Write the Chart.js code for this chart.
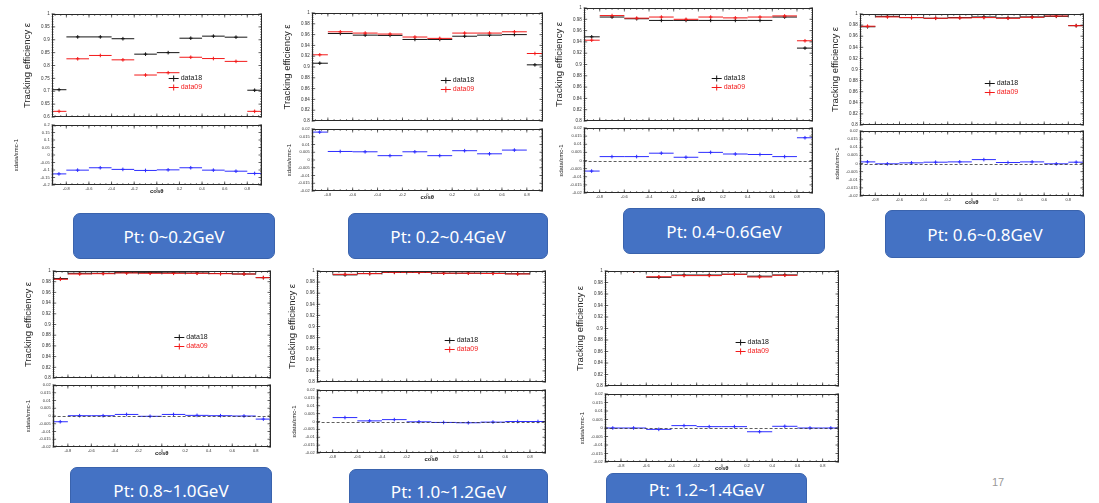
<!DOCTYPE html>
<html>
<head>
<meta charset="utf-8">
<script src="https://cdn.jsdelivr.net/npm/chart.js@4.4.0/dist/chart.umd.min.js"></script>
<style>
  html, body { margin: 0; padding: 0; background: #fff; }
  body { width: 1099px; height: 503px; position: relative; overflow: hidden; }
  canvas { position: absolute; }
  .tag {
    position: absolute; box-sizing: border-box; z-index: 2;
    background: #4472c4; border: 1px solid #3a63ad; border-radius: 7px;
    color: #fff; font-family: "Noto Sans", sans-serif; font-size: 17px;
    display: flex; align-items: center; justify-content: center;
  }
  #page { position: absolute; left: 992px; top: 476px; font: 11px "Liberation Sans", Arial, sans-serif; color: #999; }
</style>
</head>
<body>
<div id="page">17</div>
<script>
// bin edges in cos(theta), shared by all panels
const edges = [-0.93, -0.8, -0.6, -0.4, -0.2, 0, 0.2, 0.4, 0.6, 0.8, 0.93];

const ptLabels = ["Pt: 0~0.2GeV", "Pt: 0.2~0.4GeV", "Pt: 0.4~0.6GeV", "Pt: 0.6~0.8GeV",
                  "Pt: 0.8~1.0GeV", "Pt: 1.0~1.2GeV", "Pt: 1.2~1.4GeV"];
const seriesNames = ["data18", "data09"];

// tracking efficiency, one row per Pt panel
const data18 = [
  [0.706, 0.911, 0.911, 0.904, 0.844, 0.850, 0.906, 0.914, 0.910, 0.704],
  [0.907, 0.962, 0.959, 0.9585, 0.951, 0.951, 0.957, 0.959, 0.960, 0.904],
  [0.949, 0.984, 0.981, 0.978, 0.978, 0.978, 0.978, 0.978, 0.984, 0.929],
  [0.977, 0.9958, 0.9935, 0.9923, 0.9935, 0.9947, 0.993, 0.9947, 0.9958, 0.979],
  [0.9858, 0.9957, 0.9957, 0.9969, 0.9969, 0.9966, 0.9962, 0.9953, 0.9944, 0.9876],
  [null, 0.993, 0.9953, 0.9976, 0.9976, 0.996, 0.996, 0.996, 0.995, null],
  [null, 1.0, 0.989, 0.993, 0.993, 0.9943, 0.991, 0.9931, null, null],
];
const data09 = [
  [0.622, 0.826, 0.839, 0.822, 0.763, 0.772, 0.832, 0.827, 0.816, 0.622],
  [0.9226, 0.9652, 0.9628, 0.961, 0.9555, 0.953, 0.9628, 0.9628, 0.9652, 0.925],
  [0.943, 0.9866, 0.982, 0.984, 0.980, 0.984, 0.9825, 0.984, 0.986, 0.942],
  [0.978, 0.9947, 0.9935, 0.9923, 0.9929, 0.9935, 0.9923, 0.9941, 0.9964, 0.979],
  [0.9845, 0.9944, 0.995, 0.9963, 0.9957, 0.9957, 0.9957, 0.995, 0.9944, 0.9876],
  [null, 0.994, 0.9953, 0.9976, 0.9976, 0.996, 0.996, 0.9955, 0.9947, null],
  [null, 1.0, 0.990, 0.992, 0.992, 0.9943, 0.9896, 0.9925, null, null],
];
// eps_data / eps_mc - 1
const ratio = [
  [-0.126, -0.101, -0.085, -0.096, -0.103, -0.099, -0.085, -0.101, -0.108, -0.123],
  [0.018, 0.0055, 0.0053, 0.0028, 0.0053, 0.0028, 0.006, 0.004, 0.0064, 0.023],
  [-0.0065, 0.0024, 0.0024, 0.0045, 0.002, 0.005, 0.004, 0.0037, 0.0024, 0.014],
  [0.001, -0.0002, 0.0004, 0.0008, 0.001, 0.0024, 0.0006, 0.001, -0.0002, 0.0008],
  [-0.0037, 0.0002, 0.0002, 0.001, -0.0002, 0.001, 0.0004, 0.0002, 0, -0.002],
  [null, 0.0025, 0.0004, 0.0012, -0.0002, -0.0006, -0.0008, -0.0004, 0, 0],
  [0, 0, -0.0008, 0.0014, 0.0008, 0.0008, -0.0022, 0.001, 0, 0],
];

// axis ranges / tick steps per panel
const effMin = [0.6, 0.8, 0.8, 0.8, 0.8, 0.8, 0.8];
const effStep = [0.05, 0.02, 0.02, 0.02, 0.02, 0.02, 0.02];
const ratioMax = [0.2, 0.02, 0.02, 0.02, 0.02, 0.02, 0.02];
const ratioStep = [0.05, 0.005, 0.005, 0.005, 0.005, 0.005, 0.005];
const zeroLine = [false, false, true, true, true, true, true];

// layout: frame edges of each panel on the slide
const frames = [
  { l: 52, r: 264, t: 14, b: 119, rt: 124, rb: 185, rOff: 35 },
  { l: 312, r: 545, t: 13, b: 123, rt: 128, rb: 191, rOff: 22 },
  { l: 584, r: 815, t: 8, b: 123, rt: 127, rb: 193, rOff: 22 },
  { l: 860, r: 1086, t: 14, b: 127, rt: 130, rb: 196, rOff: 22 },
  { l: 53, r: 273, t: 271, b: 380, rt: 384, rb: 447, rOff: 24 },
  { l: 317, r: 548, t: 271, b: 384, rt: 389, rb: 453, rOff: 22 },
  { l: 605, r: 841, t: 271, b: 388, rt: 393, rb: 462, rOff: 22 },
];
const tags = [
  { l: 73, t: 213, w: 202, cy: 236 },
  { l: 348, t: 213, w: 200, cy: 236 },
  { l: 623, t: 208, w: 202, cy: 231 },
  { l: 885, t: 210, w: 200, cy: 234 },
  { l: 70, t: 467, w: 202, cy: 490 },
  { l: 349, t: 469, w: 199, cy: 491 },
  { l: 606, t: 473, w: 201, cy: 489 },
];

const BLACK = "#141414";
const RED = "#f31a1a";
const BLUE = "#2d2dff";

Chart.defaults.font.family = '"Liberation Sans", Arial, sans-serif';
Chart.defaults.color = "#333";

function fmt(v) {
  return String(parseFloat(Number(v).toFixed(4)));
}

function stroke(ctx, x1, y1, x2, y2) {
  ctx.beginPath();
  ctx.moveTo(x1, y1);
  ctx.lineTo(x2, y2);
  ctx.stroke();
}

function eachStep(min, max, step, fn) {
  const k0 = Math.ceil(min / step - 1e-6);
  const k1 = Math.floor(max / step + 1e-6);
  for (let k = k0; k <= k1; k++) fn(k * step);
}

// ROOT-like frame: box on all sides with inward ticks, optional dashed zero line
const rootFrame = {
  id: "rootFrame",
  afterDatasetsDraw(chart, args, o) {
    if (!o || !o.yMajor) return;
    const { ctx, chartArea: a } = chart;
    const x = chart.scales.x;
    const y = chart.scales.y;
    ctx.save();
    if (o.zero) {
      const py = Math.round(y.getPixelForValue(0)) + 0.5;
      ctx.strokeStyle = "#333";
      ctx.lineWidth = 0.8;
      ctx.setLineDash([3, 2]);
      stroke(ctx, a.left, py, a.right, py);
      ctx.setLineDash([]);
    }
    ctx.strokeStyle = "#2a2a2a";
    ctx.lineWidth = 0.7;
    const ticksX = (step, len) => eachStep(x.min, x.max, step, (v) => {
      const px = x.getPixelForValue(v);
      stroke(ctx, px, a.bottom, px, a.bottom - len);
      stroke(ctx, px, a.top, px, a.top + len);
    });
    const ticksY = (step, len) => eachStep(y.min, y.max, step, (v) => {
      const py = y.getPixelForValue(v);
      stroke(ctx, a.left, py, a.left + len, py);
      stroke(ctx, a.right, py, a.right - len, py);
    });
    ticksX(o.xMajor, 3.5);
    ticksX(o.xMinor, 1.8);
    ticksY(o.yMajor, 3.5);
    ticksY(o.yMinor, 1.8);
    ctx.lineWidth = 1;
    ctx.strokeRect(Math.round(a.left) + 0.5, Math.round(a.top) + 0.5,
                   Math.round(a.width) - 1, Math.round(a.height) - 1);
    ctx.restore();
  },
};

// small legend placed inside the frame at a fraction of the chart area
const rootLegend = {
  id: "rootLegend",
  afterDatasetsDraw(chart, args, o) {
    if (!o || !o.items) return;
    const { ctx, chartArea: a } = chart;
    const x0 = a.left + a.width * o.fx;
    const y0 = a.top + a.height * o.fy;
    ctx.save();
    ctx.font = '7px "Liberation Sans", Arial, sans-serif';
    ctx.textBaseline = "middle";
    o.items.forEach((it, i) => {
      const yy = Math.round(y0 + i * o.gap) + 0.5;
      ctx.strokeStyle = it.color;
      ctx.lineWidth = 1;
      stroke(ctx, x0 - 5, yy, x0 + 5, yy);
      stroke(ctx, x0, yy - 3, x0, yy + 3);
      ctx.fillStyle = it.color;
      ctx.fillText(it.text, x0 + 7, yy);
    });
    ctx.restore();
  },
};

Chart.register(rootFrame, rootLegend);

// horizontal bin segments, broken between bins
function binSegments(vals) {
  const out = [];
  vals.forEach((v, i) => {
    if (v === null) return;
    out.push({ x: edges[i], y: v }, { x: edges[i + 1], y: v }, { x: edges[i + 1], y: null });
  });
  return out;
}

function binCentres(vals) {
  const out = [];
  vals.forEach((v, i) => {
    if (v === null) return;
    out.push({ x: (edges[i] + edges[i + 1]) / 2, y: v });
  });
  return out;
}

function histSets(vals, color) {
  return [
    { data: binSegments(vals), showLine: true, borderColor: color, borderWidth: 1, pointRadius: 0, spanGaps: false },
    { data: binCentres(vals), showLine: false, pointStyle: "cross", pointRadius: 1.8, borderColor: color, borderWidth: 1 },
  ];
}

function makeCanvas(l, t, w, h) {
  const c = document.createElement("canvas");
  c.width = w;
  c.height = h;
  c.style.left = l + "px";
  c.style.top = t + "px";
  document.body.appendChild(c);
  return c;
}

const xRange = { type: "linear", min: edges[0], max: edges[edges.length - 1] };

function drawPanel(p) {
  const f = frames[p];
  const fw = f.r - f.l;

  // efficiency plot
  const topTitle = 9.5;
  const wTop = 24 + (topTitle * 1.2) / 2;
  const topCanvas = makeCanvas(f.l - wTop, f.t - 5, fw + wTop + 4, f.b - f.t + 8);
  new Chart(topCanvas, {
    type: "scatter",
    data: { datasets: [...histSets(data09[p], RED), ...histSets(data18[p], BLACK)] },
    options: {
      responsive: false,
      animation: false,
      events: [],
      layout: { padding: { top: 5, right: 4, bottom: 3, left: 0 } },
      plugins: {
        legend: { display: false },
        tooltip: { enabled: false },
        rootFrame: { xMajor: 0.2, xMinor: 0.05, yMajor: effStep[p], yMinor: effStep[p] / 5 },
        rootLegend: {
          fx: 0.58, fy: 0.62, gap: 9,
          items: [{ text: seriesNames[0], color: BLACK }, { text: seriesNames[1], color: RED }],
        },
      },
      scales: {
        x: { ...xRange, display: false },
        y: {
          min: effMin[p],
          max: 1,
          grid: { display: false, drawTicks: false },
          border: { display: false },
          ticks: { stepSize: effStep[p], callback: fmt, font: { size: 4.5 }, color: "#333", padding: 2, autoSkip: false },
          title: { display: true, text: "Tracking efficiency ε", font: { size: topTitle }, color: "#222", padding: 0 },
          afterFit(s) { s.width = wTop; },
        },
      },
    },
  });

  // ratio plot
  const rTitle = 6;
  const wR = f.rOff + (rTitle * 1.2) / 2;
  const hx = 10;
  const rCanvas = makeCanvas(f.l - wR, f.rt - 4, fw + wR + 4, f.rb - f.rt + 4 + hx);
  new Chart(rCanvas, {
    type: "scatter",
    data: { datasets: histSets(ratio[p], BLUE) },
    options: {
      responsive: false,
      animation: false,
      events: [],
      layout: { padding: { top: 4, right: 4, bottom: 0, left: 0 } },
      plugins: {
        legend: { display: false },
        tooltip: { enabled: false },
        rootFrame: { xMajor: 0.2, xMinor: 0.05, yMajor: ratioStep[p], yMinor: ratioStep[p] / 5, zero: zeroLine[p] },
      },
      scales: {
        x: {
          ...xRange,
          grid: { display: false, drawTicks: false },
          border: { display: false },
          ticks: { stepSize: 0.2, includeBounds: false, callback: fmt, font: { size: 4 }, color: "#333", padding: 1, autoSkip: false, maxRotation: 0 },
          title: { display: true, text: "cosθ", font: { size: 6, weight: "bold" }, color: "#222", padding: 0 },
          afterFit(s) { s.height = hx; },
        },
        y: {
          min: -ratioMax[p],
          max: ratioMax[p],
          grid: { display: false, drawTicks: false },
          border: { display: false },
          ticks: { stepSize: ratioStep[p], callback: fmt, font: { size: 4 }, color: "#333", padding: 2, autoSkip: false },
          title: { display: true, text: "εdata/εmc-1", font: { size: rTitle }, color: "#222", padding: 0 },
          afterFit(s) { s.width = wR; },
        },
      },
    },
  });

  // blue Pt tag
  const t = tags[p];
  const tag = document.createElement("div");
  tag.className = "tag";
  tag.style.left = t.l + "px";
  tag.style.top = t.t + "px";
  tag.style.width = t.w + "px";
  tag.style.height = Math.max(2 * (t.cy - t.t), 46) + "px";
  if (2 * (t.cy - t.t) < 46) {
    tag.style.alignItems = "flex-start";
    tag.style.paddingTop = (t.cy - t.t - 12) + "px";
  }
  tag.textContent = ptLabels[p];
  document.body.appendChild(tag);
}

for (let p = 0; p < frames.length; p++) drawPanel(p);
</script>
</body>
</html>
